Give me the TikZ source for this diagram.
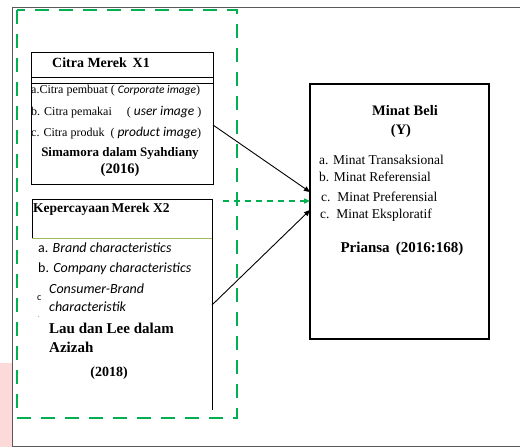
\documentclass[tikz,border=0pt]{standalone}
\usepackage{fontspec}
\setmainfont{Liberation Serif}
\newfontfamily\calib{Carlito}
\usetikzlibrary{arrows.meta}
\definecolor{grn}{RGB}{0,176,80}
\definecolor{lgrn}{RGB}{155,187,89}
\definecolor{pinkbg}{RGB}{253,218,218}
\definecolor{frame}{RGB}{90,90,90}
\tikzset{
  txt/.style={inner sep=0pt, anchor=west, font=\fontsize{12}{14}\selectfont},
  mtxt/.style={inner sep=0pt, anchor=west, font=\fontsize{13.5}{16}\selectfont},
  btxt/.style={inner sep=0pt, font=\fontsize{14}{16}\selectfont\bfseries},
  box/.style={draw, line width=0.8pt, inner sep=0pt},
  arr/.style={-{Triangle[length=6pt,width=5pt]}, line width=0.9pt},
  garr/.style={-{Triangle[length=6pt,width=5pt]}, line width=1.4pt, grn, dash pattern=on 6pt off 5pt},
}
\begin{document}
\begin{tikzpicture}[x=1pt,y=-1pt]
\useasboundingbox (0,0) rectangle (520,447);
\fill[pinkbg] (0,363) rectangle (12,447);
\fill[white] (12,7) rectangle (520,446);
% outer frame
\draw[frame, line width=1pt] (520,7) -- (12,7) -- (12,446) -- (520,446);
% green dashed group
\draw[grn, line width=1.8pt, dash pattern=on 14pt off 10pt] (17,10) rectangle (237,418);

% Citra Merek box
\node[box, minimum width=182pt, minimum height=132pt] (citra) at (122,118) {};
\draw[line width=0.8pt] (31,77) -- (213,77);
\draw[line width=0.8pt] (31,83) -- (213,83);
\node[btxt] (t1) at (101,63) {Citra Merek\, X1};
\node[txt] (c1) at (31,91) {a.Citra pembuat ( {\calib\itshape\fontsize{11.5}{12}\selectfont Corporate image})};
\node[txt] (c2) at (31,112) {b. Citra pemakai\quad\ ( {\calib\itshape\fontsize{13.5}{14}\selectfont user image} )};
\node[txt] (c3) at (31,133) {c. Citra produk\ \ ( {\calib\itshape\fontsize{13.5}{14}\selectfont product image})};
\node[btxt, font=\fontsize{13}{15}\selectfont\bfseries] (c4) at (120,153) {Simamora dalam Syahdiany};
\node[btxt, font=\fontsize{14.5}{16}\selectfont\bfseries] (c5) at (120,170) {(2016)};

% Kepercayaan Merek box
\node[draw, line width=0.6pt, inner sep=0pt, minimum width=180pt, minimum height=39pt] (kep) at (122,218.5) {};
\draw[lgrn, line width=0.8pt] (32,238) -- (212,238);
\draw[line width=0.6pt] (212,238) -- (212,410);
\node[txt, font=\fontsize{13.5}{15}\selectfont\bfseries] (k0) at (33,209) {Kepercayaan\,Merek X2};
\node[txt, font=\calib\fontsize{14}{16}\selectfont] (k1) at (38,248) {a. {\itshape Brand characteristics}};
\node[txt, font=\calib\fontsize{14}{16}\selectfont] (k2) at (38,269) {b. {\itshape Company characteristics}};
\node[txt, font=\calib\fontsize{10}{12}\selectfont] (k3) at (37,298) {c};
\node[txt, font=\calib\itshape\fontsize{14}{16}\selectfont] (k4) at (49,289) {Consumer-Brand};
\node[txt, font=\calib\itshape\fontsize{14}{16}\selectfont] (k5) at (49,307) {characteristik};
\node[txt, font=\fontsize{6}{7}\selectfont] (k6) at (38,317) {.};
\node[txt, font=\fontsize{15}{17}\selectfont\bfseries] (k7) at (49,328) {Lau dan Lee dalam};
\node[txt, font=\fontsize{15}{17}\selectfont\bfseries] (k8) at (49,347) {Azizah};
\node[btxt] (k9) at (109,373) {(2018)};

% Minat Beli box
\node[draw, line width=1.3pt, inner sep=0pt, minimum width=179pt, minimum height=255pt] (minat) at (399.5,211.5) {};
\node[btxt, font=\fontsize{14.5}{16}\selectfont\bfseries] (m0) at (405,111) {Minat Beli};
\node[btxt, font=\fontsize{14.5}{16}\selectfont\bfseries] (m1) at (401,131) {(Y)};
\node[mtxt] (m2) at (319,160) {a. Minat Transaksional};
\node[mtxt] (m3) at (319,177) {b. Minat Referensial};
\node[mtxt] (m4) at (321,197) {c.\, Minat Preferensial};
\node[mtxt] (m5) at (320,215) {c.\, Minat Eksploratif};
\node[btxt, font=\fontsize{15}{17}\selectfont\bfseries] (m6) at (402,249) {Priansa\, (2016:168)};

% connectors
\coordinate (a1s) at (213,125);
\coordinate (a1e) at (310,192);
\coordinate (a2s) at (223,201);
\coordinate (a2e) at (310,201);
\coordinate (a3s) at (212,305);
\coordinate (a3e) at (310,210);
\draw[arr] (a1s) -- (a1e);
\draw[garr] (a2s) -- (a2e);
\draw[arr] (a3s) -- (a3e);
\end{tikzpicture}
\end{document}
